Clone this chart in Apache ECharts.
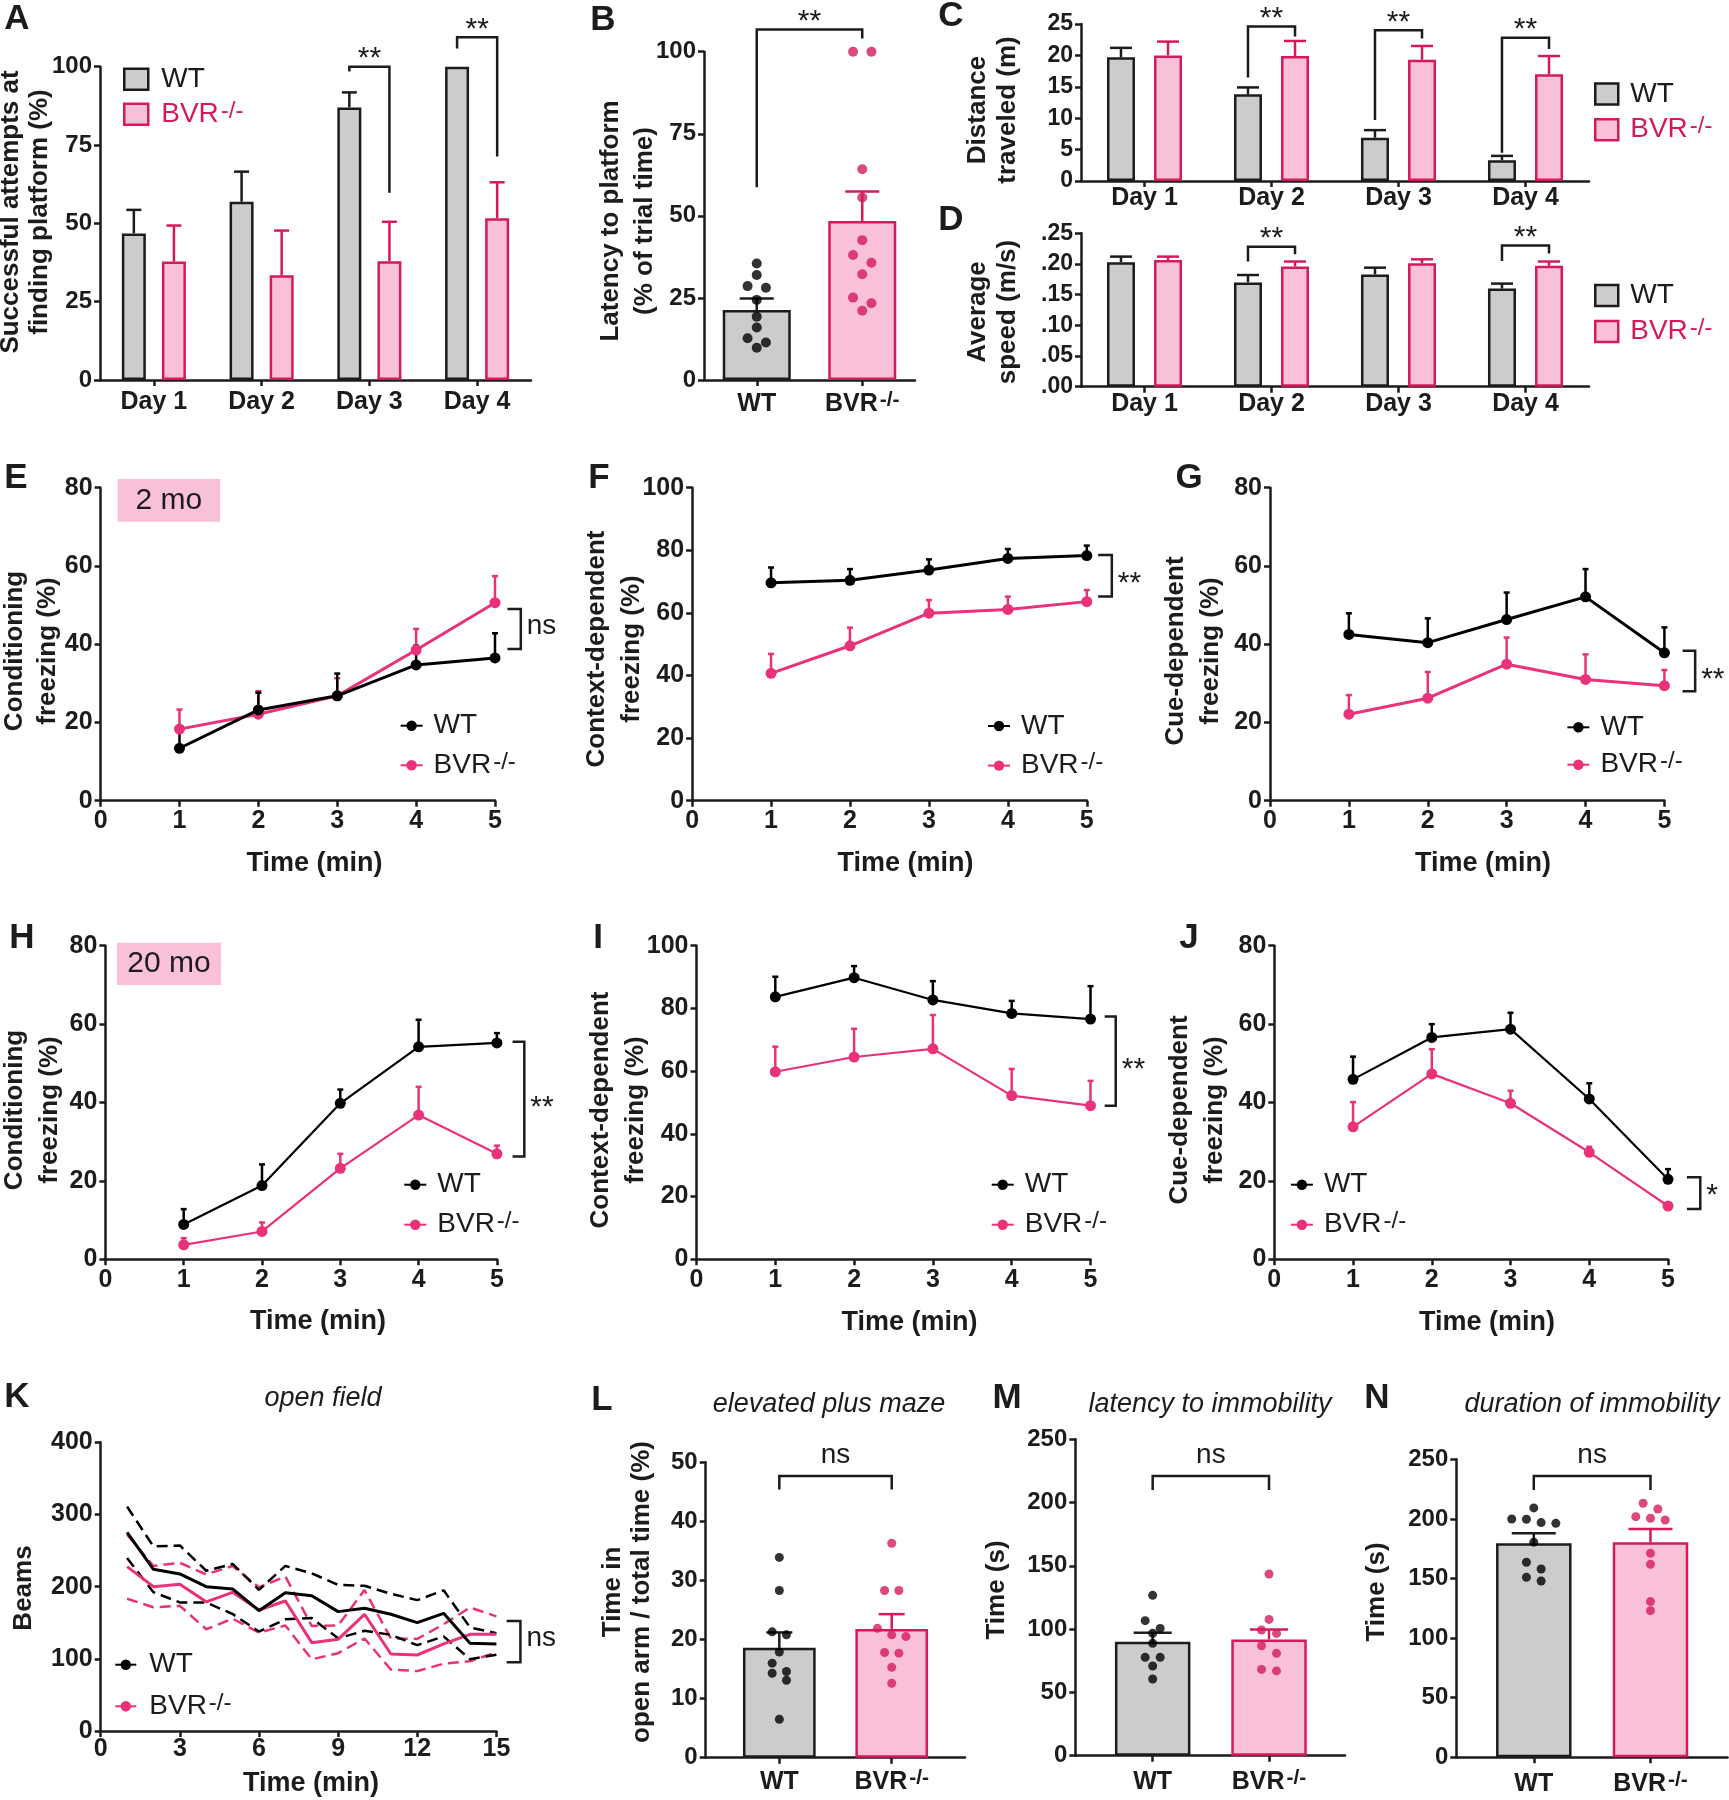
<!DOCTYPE html>
<html><head><meta charset="utf-8">
<script src="https://cdn.jsdelivr.net/npm/echarts@6/dist/echarts.min.js"></script>
<style>html,body{margin:0;padding:0;background:#fff}#c{width:1729px;height:1800px}</style>
</head><body><div id="c"></div>
<script>
// ================= DATA =================
const dayCats = ['Day 1', 'Day 2', 'Day 3', 'Day 4'];
const groupCats = ['WT', 'BVR-/-'];
const min5 = [1, 2, 3, 4, 5];
const min15 = [1, 2, 3, 4, 5, 6, 7, 8, 9, 10, 11, 12, 13, 14, 15];

// A
const aTicks = [0, 25, 50, 75, 100];
const aWT = [46.8, 56.9, 87.0, 100];
const aWTsem = [7.5, 9.6, 4.8, 0];
const aBVR = [37.8, 33.4, 37.9, 51.6];
const aBVRsem = [11.5, 14.3, 12.6, 11.5];
const aSig = [[2, 2, 100, 98.5, 59.8], [3, 3, 109.4, 105.8, 71.3]];
const aSigText = ['**', '**'];

// B
const bTicks = [0, 25, 50, 75, 100];
const bMean = [21.3, 48.4];
const bSem = [3.5, 9.0];
const bWTdots = [35.5, 32.0, 28.6, 28.1, 24.4, 19.3, 16.0, 12.7, 11.4, 9.8];
const bBVRdots = [100, 100, 64.2, 55.6, 42.6, 38.1, 35.7, 32.2, 25.1, 23.4, 21.1];
const bSig = [[0, 1, 106.8, 58.7, 104]];
const bSigText = ['**'];

// C
const cTicks = [0, 5, 10, 15, 20, 25];
const cWT = [19.7, 13.8, 6.9, 3.3];
const cWTsem = [1.5, 1.1, 1.2, 0.7];
const cBVR = [20.0, 19.9, 19.3, 17.0];
const cBVRsem = [2.2, 2.4, 2.2, 2.9];
const cSig = [[1, 1, 24.6, 16.5, 23.0], [2, 2, 24.0, 9.7, 22.7], [3, 3, 22.8, 4.5, 21.0]];
const cSigText = ['**', '**', '**'];

// D
const dTicks = [0, 0.05, 0.10, 0.15, 0.20, 0.25];
const dTickLabels = ['.00', '.05', '.10', '.15', '.20', '.25'];
const dWT = [0.203, 0.170, 0.183, 0.160];
const dWTsem = [0.009, 0.012, 0.011, 0.008];
const dBVR = [0.2065, 0.196, 0.201, 0.197];
const dBVRsem = [0.0055, 0.008, 0.0066, 0.007];
const dSig = [[1, 1, 0.228, 0.204, 0.216], [3, 3, 0.230, 0.205, 0.217]];
const dSigText = ['**', '**'];

// E (2 mo conditioning)
const timeTicks5 = [0, 1, 2, 3, 4, 5];
const eTicks = [0, 20, 40, 60, 80];
const eWT = [13.4, 23.2, 26.8, 34.7, 36.5];
const eWTsem = [5.5, 4.4, 5.7, 4.9, 6.3];
const eBVR = [18.3, 22.1, 26.8, 38.5, 50.6];
const eBVRsem = [5.0, 5.9, 4.5, 5.4, 6.8];
const eSig = [[5.158, 5.327, 49.0, 38.8]];
const eSigText = ['ns'];

// F
const fTicks = [0, 20, 40, 60, 80, 100];
const fWT = [69.6, 70.4, 73.7, 77.4, 78.3];
const fWTsem = [4.9, 3.6, 3.4, 3.0, 3.2];
const fBVR = [40.7, 49.5, 59.9, 61.1, 63.6];
const fBVRsem = [6.2, 5.8, 4.2, 4.1, 3.7];
const fSig = [[5.144, 5.317, 78.5, 65.2]];
const fSigText = ['**'];

// G
const gTicks = [0, 20, 40, 60, 80];
const gWT = [42.5, 40.4, 46.3, 52.1, 37.8];
const gWTsem = [5.4, 6.2, 6.9, 7.1, 6.5];
const gBVR = [22.1, 26.2, 34.9, 31.0, 29.4];
const gBVRsem = [4.9, 6.7, 6.8, 6.4, 4.0];
const gSig = [[5.23, 5.39, 38.3, 28.0]];
const gSigText = ['**'];

// H (20 mo)
const hTicks = [0, 20, 40, 60, 80];
const hWT = [8.9, 18.8, 39.8, 54.2, 55.2];
const hWTsem = [3.9, 5.4, 3.5, 6.9, 2.5];
const hBVR = [3.7, 7.1, 23.2, 36.8, 26.9];
const hBVRsem = [1.7, 2.3, 3.7, 7.2, 2.1];
const hSig = [[5.2, 5.35, 55.5, 26.2]];
const hSigText = ['**'];

// I
const iTicks = [0, 20, 40, 60, 80, 100];
const iWT = [83.7, 89.8, 82.7, 78.4, 76.6];
const iWTsem = [6.4, 3.7, 6.0, 4.0, 10.5];
const iBVR = [59.8, 64.5, 67.1, 52.2, 49.0];
const iBVRsem = [8.0, 9.0, 10.8, 8.5, 7.9];
const iSig = [[5.18, 5.32, 77.4, 49.0]];
const iSigText = ['**'];

// J
const jTicks = [0, 20, 40, 60, 80];
const jWT = [45.9, 56.6, 58.7, 40.9, 20.4];
const jWTsem = [5.8, 3.4, 4.2, 4.0, 2.6];
const jBVR = [33.8, 47.3, 39.8, 27.3, 13.6];
const jBVRsem = [6.3, 6.3, 3.2, 1.4, 0.5];
const jSig = [[5.24, 5.41, 20.9, 12.8]];
const jSigText = ['*'];

// K (open field)
const kXTicks = [0, 3, 6, 9, 12, 15];
const kYTicks = [0, 100, 200, 300, 400];
const kWT = [275.3, 224, 217.6, 200, 196.8, 166.7, 191.7, 187.5, 165.4, 170, 161.7, 150.1, 163, 121.5, 120.6];
const kWTsem = [35.6, 31.7, 39.5, 22, 34.7, 28.9, 37, 31, 37, 31.2, 28.4, 31.2, 31.9, 22, 15];
const kBVR = [227.7, 200, 203.2, 179, 192.1, 167.7, 180.1, 122.4, 127, 161.7, 106.7, 105.3, 120.6, 133.9, 133.9];
const kBVRsem = [44.4, 28.6, 29.8, 38, 36.5, 31.4, 34, 23.1, 19.2, 33.5, 21.6, 22.3, 27.3, 37.2, 25];
const kSig = [[15.39, 15.91, 152.4, 95.2]];
const kSigText = ['ns'];

// L (elevated plus maze)
const lTicks = [0, 10, 20, 30, 40, 50];
const lMean = [18.6, 21.8];
const lSem = [2.6, 2.5];
const lWTdots = [33.9, 28.3, 21.3, 20.8, 17.9, 16.0, 14.6, 14.3, 13.1, 6.5];
const lBVRdots = [36.3, 28.3, 28.3, 21.9, 20.8, 20.5, 17.8, 17.7, 15.3, 12.6];
const lSig = [[0, 1, 47.7, 45.4, 45.4]];
const lSigText = ['ns'];

// M (latency to immobility)
const mTicks = [0, 50, 100, 150, 200, 250];
const mMean = [90.1, 91.9];
const mSem = [7.1, 7.9];
const mWTdots = [126.7, 106.7, 100.6, 96.7, 88.8, 77.7, 77.7, 70.9, 60.6];
const mBVRdots = [143.6, 107.7, 99.3, 96.6, 86.9, 80.9, 68.2, 67.0];
const mSig = [[0, 1, 221, 210, 210]];
const mSigText = ['ns'];

// N (duration of immobility)
const nTicks = [0, 50, 100, 150, 200, 250];
const nMean = [179.5, 180.4];
const nSem = [8.4, 11.2];
const nWTdots = [209.2, 199.9, 199.7, 196.9, 196.3, 180.5, 163.6, 158.0, 151.0, 147.9];
const nBVRdots = [213.1, 208.3, 201.9, 200.5, 199.1, 171.1, 161.9, 130.6, 123.0];
const nSig = [[0, 1, 236, 224.3, 224.3]];
const nSigText = ['ns'];

// ================= STYLE / LAYOUT =================
const INK = '#1d1b1c';
const PINK_LINE = '#e9327a';
const PINK_EDGE = '#d41a5c';
const PINK_FILL = '#f8c1d7';
const GRAY_FILL = '#cccccc';
const FF = "'Liberation Sans', Arial, Helvetica, sans-serif";

const LAY = {
  A: {grid: [100, 66.7, 431, 313.3], barW: 24, gap: 67, cap: 7.5, xfs: 25, xm: 10, yfs: 24,
      legend: {left: 123, top: 65.3, gap: 6, iw: 24, ih: 21, pad: 8}, brFs: 30, brDy: -8},
  B: {grid: [704, 51.7, 211, 328.3], xr: [-0.5, 1.5], barW: 68, cap: 17, dot: 10, step: 0.174, tol: 2.7, brFs: 30, brDy: -8},
  C: {grid: [1081, 24, 508, 157], barW: 28, gap: 68, cap: 11, xfs: 25, xm: 5, yfs: 23,
      legend: {left: 1594, top: 80, gap: 6.7, iw: 23, ih: 21, pad: 7}, brFs: 30, brDy: -8},
  D: {grid: [1081, 233.3, 508, 153.4], barW: 28, gap: 68, cap: 11, xfs: 25, xm: 5, yfs: 23,
      legend: {left: 1594, top: 281.5, gap: 7, iw: 23, ih: 21, pad: 7}, brFs: 30, brDy: -8},
  E: {grid: [100.6, 487.7, 394.4, 313], lw: 3, legend: {left: 399.6, top: 711.7, gap: 10.6, iw: 22, ih: 13, pad: 6}, brFs: 28, brDy: -3},
  F: {grid: [692.1, 487.7, 394.7, 313], lw: 3, legend: {left: 987, top: 712, gap: 10.6, iw: 22, ih: 13, pad: 6}, brFs: 30, brDy: 8},
  G: {grid: [1270, 487.7, 394.4, 313], lw: 3, legend: {left: 1566.4, top: 713.3, gap: 8.4, iw: 22, ih: 13, pad: 6}, brFs: 30, brDy: 9},
  H: {grid: [105.4, 945.7, 391.5, 313.6], lw: 2.2, legend: {left: 403.3, top: 1170.7, gap: 11, iw: 22, ih: 13, pad: 6}, brFs: 30, brDy: 9},
  I: {grid: [696.5, 945.7, 394, 313.6], lw: 2.2, legend: {left: 990.7, top: 1170.7, gap: 11, iw: 22, ih: 13, pad: 6}, brFs: 30, brDy: 9},
  J: {grid: [1274.3, 945.7, 393.7, 313.6], lw: 2.2, legend: {left: 1289.9, top: 1170.7, gap: 11, iw: 22, ih: 13, pad: 6}, brFs: 30, brDy: 2},
  K: {grid: [100.7, 1442.3, 395.7, 288.7], legend: {left: 114.3, top: 1650.7, gap: 12.6, iw: 21, ih: 13, pad: 8}, brFs: 28, brDy: -3},
  L: {grid: [705.7, 1462.3, 259.3, 295.4], xr: [-0.655, 1.652], barW: 72.7, cap: 13, dot: 9, step: 0.127, tol: 1.45, brFs: 28, brDy: -21},
  M: {grid: [1075.3, 1439.3, 269.7, 316.4], xr: [-0.665, 1.653], barW: 75.5, cap: 19, dot: 9, step: 0.129, tol: 6.6, brFs: 28, brDy: -21},
  N: {grid: [1456.3, 1459.3, 271.2, 298], xr: [-0.664, 1.66], barW: 75.5, cap: 22, dot: 9, step: 0.126, tol: 7.0, brFs: 28, brDy: -21}
};

// ================= BUILDERS =================
const grids = [], xAxes = [], yAxes = [], series = [], legends = [], gfx = [];
const AXLINE = {show: true, onZero: false, lineStyle: {color: INK, width: 2.5}};
const AXTICK = {show: true, length: 6, inside: false, lineStyle: {color: INK, width: 2.5}};

function addGrid(r) { grids.push({left: r[0], top: r[1], width: r[2], height: r[3], containLabel: false}); return grids.length - 1; }

function supRich(fs, bold) {
  return {
    b: {fontFamily: FF, fontSize: fs, fontWeight: bold ? 'bold' : 'normal', lineHeight: fs + 4, color: INK},
    s: {fontFamily: FF, fontSize: Math.round(fs * 0.85), fontWeight: bold ? 'bold' : 'normal', lineHeight: 5, verticalAlign: 'top', color: INK, padding: [0, 0, 0, 2]}
  };
}
function richLabel(s) {
  const m = s.match(/^(.*?)(-\/-)$/);
  return m ? '{b|' + m[1] + '}{s|' + m[2] + '}' : '{b|' + s + '}';
}

function valY(g, ticks, fs, fmt) {
  const ax = {gridIndex: g, type: 'value', min: ticks[0], max: ticks[ticks.length - 1], interval: ticks[1] - ticks[0],
    axisLine: AXLINE, axisTick: AXTICK, splitLine: {show: false},
    axisLabel: {color: INK, fontFamily: FF, fontWeight: 'bold', fontSize: fs || 24, margin: 8}};
  if (fmt) ax.axisLabel.formatter = fmt;
  return ax;
}
function catX(g, cats, fs, margin) {
  return {gridIndex: g, type: 'category', data: cats, boundaryGap: true,
    axisLine: AXLINE, axisTick: Object.assign({alignWithLabel: true}, AXTICK), splitLine: {show: false},
    axisLabel: {color: INK, fontFamily: FF, fontWeight: 'bold', fontSize: fs, margin: margin, interval: 0}};
}
function numX(g, ticks) {
  return {gridIndex: g, type: 'value', min: ticks[0], max: ticks[ticks.length - 1], interval: ticks[1] - ticks[0],
    axisLine: AXLINE, axisTick: AXTICK, splitLine: {show: false},
    axisLabel: {color: INK, fontFamily: FF, fontWeight: 'bold', fontSize: 25, margin: 8}};
}
function groupX(g, range, cats, margin) {
  return {gridIndex: g, type: 'value', min: range[0], max: range[1],
    axisLine: AXLINE, axisTick: Object.assign({customValues: [0, 1]}, AXTICK), splitLine: {show: false},
    axisLabel: {customValues: [0, 1], margin: margin, formatter: v => richLabel(cats[Math.round(v)]), rich: supRich(25, true)}};
}

function errS(g, data, offPx, capHalf, color, lw) {
  return {type: 'custom', xAxisIndex: g, yAxisIndex: g, silent: true, z: 3, clip: false, data: data,
    renderItem(params, api) {
      const x = api.value(0), y = api.value(1), e = api.value(2);
      if (!(e > 0)) return {type: 'group', children: []};
      const p0 = api.coord([x, y]), p1 = api.coord([x, y + e]);
      const cx = p0[0] + offPx;
      const st = {stroke: color, lineWidth: lw};
      return {type: 'group', children: [
        {type: 'line', shape: {x1: cx, y1: p0[1], x2: cx, y2: p1[1]}, style: st},
        {type: 'line', shape: {x1: cx - capHalf, y1: p1[1], x2: cx + capHalf, y2: p1[1]}, style: st}
      ]};
    }};
}

function textStyle(text, fs, align, va) {
  return {text: text, fill: INK, font: fs + 'px ' + FF, align: align, verticalAlign: va, textAlign: align, textVerticalAlign: va};
}

function hBr(g, items, labels, offL, offR, fs, dy) {
  return {type: 'custom', xAxisIndex: g, yAxisIndex: g, silent: true, z: 6, clip: false,
    dimensions: ['x1', 'x2', 'yt', 'yl', 'yr'], encode: {x: [0, 1], y: [2, 3, 4]}, data: items,
    renderItem(params, api) {
      const a = api.coord([api.value(0), api.value(3)]);
      const b = api.coord([api.value(0), api.value(2)]);
      const c = api.coord([api.value(1), api.value(2)]);
      const d = api.coord([api.value(1), api.value(4)]);
      const pts = [[a[0] + offL, a[1]], [b[0] + offL, b[1]], [c[0] + offR, c[1]], [d[0] + offR, d[1]]];
      return {type: 'group', children: [
        {type: 'polyline', shape: {points: pts}, style: {stroke: INK, lineWidth: 2.5, fill: 'none'}},
        {type: 'text', x: (pts[1][0] + pts[2][0]) / 2, y: b[1] + dy, style: textStyle(labels[params.dataIndex], fs, 'center', 'middle')}
      ]};
    }};
}
function vBr(g, items, labels, fs, dy) {
  return {type: 'custom', xAxisIndex: g, yAxisIndex: g, silent: true, z: 6, clip: false,
    dimensions: ['xl', 'xr', 'yt', 'yb'], encode: {x: [0, 1], y: [2, 3]}, data: items,
    renderItem(params, api) {
      const tl = api.coord([api.value(0), api.value(2)]);
      const tr = api.coord([api.value(1), api.value(2)]);
      const br = api.coord([api.value(1), api.value(3)]);
      const bl = api.coord([api.value(0), api.value(3)]);
      return {type: 'group', children: [
        {type: 'polyline', shape: {points: [tl, tr, br, bl]}, style: {stroke: INK, lineWidth: 2.5, fill: 'none'}},
        {type: 'text', x: tr[0] + 6, y: (tr[1] + br[1]) / 2 + dy, style: textStyle(labels[params.dataIndex], fs, 'left', 'middle')}
      ]};
    }};
}

function legendCfg(items, p, pinkBVR) {
  const rich = {
    b: {fontFamily: FF, fontSize: 28, lineHeight: 30, color: INK, padding: [0, 0, 0, p.pad]},
    s: {fontFamily: FF, fontSize: 24, lineHeight: 4, verticalAlign: 'top', color: INK, padding: [0, 0, 0, 2]},
    bp: {fontFamily: FF, fontSize: 28, lineHeight: 30, color: PINK_EDGE, padding: [0, 0, 0, p.pad]},
    sp: {fontFamily: FF, fontSize: 24, lineHeight: 4, verticalAlign: 'top', color: PINK_EDGE, padding: [0, 0, 0, 2]}
  };
  return {orient: 'vertical', left: p.left, top: p.top, itemGap: p.gap, itemWidth: p.iw, itemHeight: p.ih,
    padding: 0, selectedMode: false, data: items,
    formatter: n => n.startsWith('WT') ? '{b|WT}' : (pinkBVR ? '{bp|BVR}{sp|-/-}' : '{b|BVR}{s|-/-}'),
    textStyle: {fontFamily: FF, fontSize: 28, color: INK, rich: rich}};
}

function swarm(values, tol, step) {
  const idx = values.map((v, i) => i).sort((a, b) => values[b] - values[a]);
  const off = values.map(() => 0);
  let grp = [];
  const flush = () => { grp.forEach((id, k) => { off[id] = (k - (grp.length - 1) / 2) * step; }); grp = []; };
  idx.forEach(id => { if (grp.length && values[grp[0]] - values[id] > tol) flush(); grp.push(id); });
  flush();
  return off;
}

const WT_BAR = {color: GRAY_FILL, borderColor: INK, borderWidth: 2.5};
const BVR_BAR = {color: PINK_FILL, borderColor: PINK_EDGE, borderWidth: 2.5};

// ---- grouped bar panels (A, C, D)
function groupedBarPanel(key, ticks, wt, wtSem, bvr, bvrSem, sig, sigText, yfmt) {
  const P = LAY[key];
  const g = addGrid(P.grid);
  xAxes.push(catX(g, dayCats, P.xfs, P.xm));
  yAxes.push(valY(g, ticks, P.yfs, yfmt));
  series.push({type: 'bar', name: 'WT@' + key, xAxisIndex: g, yAxisIndex: g, data: wt, barWidth: P.barW, barGap: P.gap + '%', itemStyle: WT_BAR, z: 2});
  series.push({type: 'bar', name: 'BVR@' + key, xAxisIndex: g, yAxisIndex: g, data: bvr, barWidth: P.barW, barGap: P.gap + '%', itemStyle: BVR_BAR, z: 2});
  const off = P.barW * (1 + P.gap / 100) / 2;
  series.push(errS(g, wt.map((v, i) => [i, v, wtSem[i]]), -off, P.cap, INK, 2.5));
  series.push(errS(g, bvr.map((v, i) => [i, v, bvrSem[i]]), off, P.cap, PINK_EDGE, 2.5));
  series.push(hBr(g, sig, sigText, -off, off, P.brFs, P.brDy));
  legends.push(legendCfg([
    {name: 'WT@' + key, icon: 'rect', itemStyle: WT_BAR},
    {name: 'BVR@' + key, icon: 'rect', itemStyle: BVR_BAR}], P.legend, true));
}

// ---- bar + dots panels (B, L, M, N)
function dotBarPanel(key, ticks, mean, sem, wtDots, bvrDots, sig, sigText, xm) {
  const P = LAY[key];
  const g = addGrid(P.grid);
  xAxes.push(groupX(g, P.xr, groupCats, xm));
  yAxes.push(valY(g, ticks, 24));
  series.push({type: 'bar', name: 'bars@' + key, xAxisIndex: g, yAxisIndex: g, barWidth: P.barW, z: 2,
    data: [{value: [0, mean[0]], itemStyle: WT_BAR}, {value: [1, mean[1]], itemStyle: BVR_BAR}]});
  series.push(errS(g, [[0, mean[0], sem[0]]], 0, P.cap, INK, 2.5));
  series.push(errS(g, [[1, mean[1], sem[1]]], 0, P.cap, PINK_EDGE, 2.5));
  const ow = swarm(wtDots, P.tol, P.step), ob = swarm(bvrDots, P.tol, P.step);
  series.push({type: 'scatter', xAxisIndex: g, yAxisIndex: g, symbol: 'circle', symbolSize: P.dot, z: 4, silent: true,
    itemStyle: {color: '#000'}, data: wtDots.map((v, i) => [0 + ow[i], v])});
  series.push({type: 'scatter', xAxisIndex: g, yAxisIndex: g, symbol: 'circle', symbolSize: P.dot, z: 4, silent: true,
    itemStyle: {color: PINK_EDGE}, data: bvrDots.map((v, i) => [1 + ob[i], v])});
  series.push(hBr(g, sig, sigText, 0, 0, P.brFs, P.brDy));
}

// ---- line panels (E-J)
function linePanel(key, ticks, wt, wtSem, bvr, bvrSem, sig, sigText) {
  const P = LAY[key];
  const g = addGrid(P.grid);
  xAxes.push(numX(g, timeTicks5));
  yAxes.push(valY(g, ticks, 25));
  series.push(errS(g, bvr.map((v, i) => [min5[i], v, bvrSem[i]]), 0, 3, PINK_LINE, 2.5));
  series.push(errS(g, wt.map((v, i) => [min5[i], v, wtSem[i]]), 0, 3, '#000', 2.5));
  series.push({type: 'line', name: 'BVR@' + key, xAxisIndex: g, yAxisIndex: g, symbol: 'circle', symbolSize: 11, z: 4,
    lineStyle: {color: PINK_LINE, width: P.lw}, itemStyle: {color: PINK_LINE}, data: bvr.map((v, i) => [min5[i], v])});
  series.push({type: 'line', name: 'WT@' + key, xAxisIndex: g, yAxisIndex: g, symbol: 'circle', symbolSize: 11, z: 5,
    lineStyle: {color: '#000', width: P.lw}, itemStyle: {color: '#000'}, data: wt.map((v, i) => [min5[i], v])});
  series.push(vBr(g, sig, sigText, P.brFs, P.brDy));
  legends.push(legendCfg(['WT@' + key, 'BVR@' + key], P.legend, false));
}

groupedBarPanel('A', aTicks, aWT, aWTsem, aBVR, aBVRsem, aSig, aSigText);
dotBarPanel('B', bTicks, bMean, bSem, bWTdots, bBVRdots, bSig, bSigText, 10);
groupedBarPanel('C', cTicks, cWT, cWTsem, cBVR, cBVRsem, cSig, cSigText);
groupedBarPanel('D', dTicks, dWT, dWTsem, dBVR, dBVRsem, dSig, dSigText, (v, i) => dTickLabels[i]);
linePanel('E', eTicks, eWT, eWTsem, eBVR, eBVRsem, eSig, eSigText);
linePanel('F', fTicks, fWT, fWTsem, fBVR, fBVRsem, fSig, fSigText);
linePanel('G', gTicks, gWT, gWTsem, gBVR, gBVRsem, gSig, gSigText);
linePanel('H', hTicks, hWT, hWTsem, hBVR, hBVRsem, hSig, hSigText);
linePanel('I', iTicks, iWT, iWTsem, iBVR, iBVRsem, iSig, iSigText);
linePanel('J', jTicks, jWT, jWTsem, jBVR, jBVRsem, jSig, jSigText);

// ---- K open field
(function () {
  const P = LAY.K;
  const g = addGrid(P.grid);
  const ax = numX(g, kXTicks); ax.axisLabel.margin = 6;
  xAxes.push(ax);
  yAxes.push(valY(g, kYTicks, 25));
  const dash = [11, 6];
  const mk = (name, vals, color, type, w) => ({type: 'line', name: name, xAxisIndex: g, yAxisIndex: g, symbol: 'circle', symbolSize: 10,
    showSymbol: false, z: 3, lineStyle: {color: color, width: w, type: type}, itemStyle: {color: color},
    data: vals.map((v, i) => [min15[i], v])});
  series.push(mk('BVRhi@K', kBVR.map((v, i) => v + kBVRsem[i]), PINK_LINE, dash, 2.5));
  series.push(mk('BVRlo@K', kBVR.map((v, i) => v - kBVRsem[i]), PINK_LINE, dash, 2.5));
  series.push(mk('WThi@K', kWT.map((v, i) => v + kWTsem[i]), '#000', dash, 2.5));
  series.push(mk('WTlo@K', kWT.map((v, i) => v - kWTsem[i]), '#000', dash, 2.5));
  series.push(mk('BVR@K', kBVR, PINK_LINE, 'solid', 3));
  series.push(mk('WT@K', kWT, '#000', 'solid', 3));
  series.push(vBr(g, kSig, kSigText, P.brFs, P.brDy));
  legends.push(legendCfg(['WT@K', 'BVR@K'], P.legend, false));
})();

dotBarPanel('L', lTicks, lMean, lSem, lWTdots, lBVRdots, lSig, lSigText, 10);
dotBarPanel('M', mTicks, mMean, mSem, mWTdots, mBVRdots, mSig, mSigText, 12);
dotBarPanel('N', nTicks, nMean, nSem, nWTdots, nBVRdots, nSig, nSigText, 12);

// ================= TEXT (letters, titles) =================
function gText(x, y, text, font, opt) {
  opt = opt || {};
  gfx.push({type: 'text', x: x, y: y, rotation: opt.rot || 0, z: 50, silent: true,
    style: {text: text, font: font, fill: opt.fill || INK, align: opt.align || 'center', verticalAlign: opt.va || 'middle',
      textAlign: opt.align || 'center', textVerticalAlign: opt.va || 'middle', lineHeight: opt.lh}});
}
const LETTER_FONT = 'bold 35px ' + FF;
[['A', 17, 19], ['B', 603, 20], ['C', 951, 16], ['D', 951, 220], ['E', 16, 478], ['F', 599, 478], ['G', 1189, 478],
 ['H', 22, 938], ['I', 598, 938], ['J', 1189, 938], ['K', 17, 1397], ['L', 602, 1400], ['M', 1007, 1398], ['N', 1377, 1398]]
  .forEach(t => gText(t[1], t[2], t[0], LETTER_FONT));

const YT_FONT = 'bold 26px ' + FF;
[['Successful attempts at\nfinding platform (%)', 25, 212, 29],
 ['Latency to platform\n(% of trial time)', 628, 221, 34],
 ['Distance\ntraveled (m)', 993, 110, 30],
 ['Average\nspeed (m/s)', 993, 312, 30],
 ['Conditioning\nfreezing (%)', 31, 651, 33],
 ['Context-dependent\nfreezing (%)', 614, 649, 35],
 ['Cue-dependent\nfreezing (%)', 1193.5, 651, 35],
 ['Conditioning\nfreezing (%)', 32.4, 1110, 35],
 ['Context-dependent\nfreezing (%)', 618, 1110, 35],
 ['Cue-dependent\nfreezing (%)', 1197, 1110, 35],
 ['Beams', 24, 1588, 30],
 ['Time in\nopen arm / total time (%)', 627.5, 1592, 28.4],
 ['Time (s)', 997, 1590, 30],
 ['Time (s)', 1377, 1592, 30]]
  .forEach(t => gText(t[1], t[2], t[0], YT_FONT, {rot: Math.PI / 2, lh: t[3]}));

const XT_FONT = 'bold 27px ' + FF;
[[314.5, 863.3], [905.6, 863.3], [1483, 863.3], [318, 1322], [909.5, 1323], [1487, 1323], [311, 1784]]
  .forEach(p => gText(p[0], p[1], 'Time (min)', XT_FONT));

const TITLE_FONT = 'italic 27px ' + FF;
gText(323, 1398, 'open field', TITLE_FONT);
gText(829, 1404, 'elevated plus maze', TITLE_FONT);
gText(1210, 1404, 'latency to immobility', TITLE_FONT);
gText(1592, 1404, 'duration of immobility', TITLE_FONT);

// age boxes
gfx.push({type: 'rect', shape: {x: 117.6, y: 479, width: 102.5, height: 42.7}, style: {fill: PINK_FILL}, z: 40, silent: true});
gText(168.9, 500.4, '2 mo', '30px ' + FF);
gfx.push({type: 'rect', shape: {x: 116.9, y: 942.7, width: 104.3, height: 42.3}, style: {fill: PINK_FILL}, z: 40, silent: true});
gText(169, 964, '20 mo', '30px ' + FF);

// ================= RENDER =================
const chart = echarts.init(document.getElementById('c'), null, {renderer: 'canvas', width: 1729, height: 1800});
chart.setOption({
  animation: false,
  backgroundColor: '#ffffff',
  textStyle: {fontFamily: FF},
  grid: grids, xAxis: xAxes, yAxis: yAxes, series: series, legend: legends,
  graphic: {elements: gfx}
});
</script></body></html>
